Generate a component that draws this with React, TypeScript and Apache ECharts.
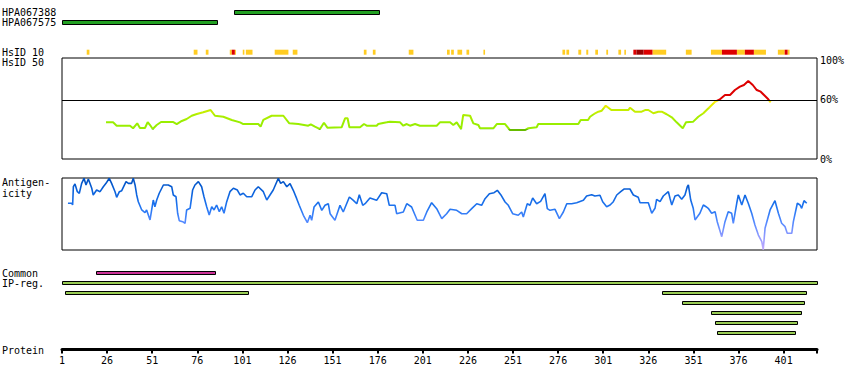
import React, { useEffect, useRef } from "react";
import * as echarts from "echarts";

// ---------- data ----------
const PROTEIN_END = 419.5;
const tickResidues = [1, 26, 51, 76, 101, 126, 151, 176, 201, 226, 251, 276, 301, 326, 351, 376, 401];

const antibodyNames = ["HPA067388", "HPA067575"];
// [start, end, row]
const antibodyRanges = [
  [96.3, 176.7, 0],
  [1.2, 86.7, 1],
];

// HsID 10 blocks [start, end]
const hsid10Orange = [
  [14.7, 16.2], [74.0, 76.1], [80.7, 82.2], [94.0, 95.1], [96.8, 97.4], [101.2, 102.1],
  [102.9, 106.6], [118.9, 126.5], [128.9, 131.5], [168.3, 169.8], [173.3, 174.8],
  [193.2, 195.8], [214.4, 215.9], [216.7, 218.2], [220.2, 222.8], [225.2, 226.7],
  [234.6, 235.5], [278.4, 279.9], [280.6, 282.1], [287.2, 288.8], [291.6, 292.7],
  [296.6, 298.1], [302.7, 303.7], [309.4, 310.9], [312.7, 313.6], [328.3, 335.9],
  [346.8, 350.0], [360.7, 366.8], [375.1, 379.5], [384.5, 391.2], [397.8, 401.6],
  [403.2, 404.3],
];
const hsid10Red = [
  [95.1, 96.8], [317.7, 319.4], [323.3, 328.3], [366.8, 375.1], [379.5, 384.5], [401.6, 403.2],
];
const hsid10DarkRed = [[319.4, 323.3]];

// HsID 50 identity curve [residue, percent]
const hsid50Points = [
  [25.4, 37.2], [29.3, 37.2], [31.3, 33.8], [38.7, 33.8], [40.4, 31.2], [42.7, 36.2],
  [44.2, 31.5], [47.0, 31.5], [48.5, 37.5], [49.8, 34.5], [51.3, 30.5], [53.5, 34.5],
  [55.9, 37.5], [62.7, 37.5], [64.6, 35.5], [67.4, 38.6], [70.1, 40.6], [72.9, 43.9],
  [75.7, 45.7], [79.3, 47.4], [83.4, 49.7], [85.8, 43.9], [90.4, 42.9], [95.1, 39.6],
  [99.7, 37.2], [101.5, 35.5], [109.8, 35.5], [111.1, 32.8], [112.6, 39.6], [117.2, 43.9],
  [123.7, 43.9], [127.0, 36.2], [132.0, 35.5], [137.5, 33.8], [138.9, 35.2], [141.2, 32.8],
  [144.0, 30.4], [146.2, 36.8], [148.1, 31.8], [156.0, 32.2], [157.9, 41.3], [159.3, 41.3],
  [160.3, 32.2], [166.2, 32.2], [168.4, 35.5], [169.9, 33.8], [175.4, 33.8], [176.3, 35.5],
  [181.0, 37.2], [182.8, 37.9], [188.4, 37.2], [190.2, 33.8], [192.1, 35.5], [193.9, 33.8],
  [196.7, 35.5], [199.4, 33.8], [208.7, 33.8], [210.5, 37.2], [216.1, 37.2], [217.9, 34.5],
  [219.8, 37.2], [222.2, 30.4], [223.4, 44.7], [227.2, 43.9], [229.0, 36.2], [231.8, 34.5],
  [232.7, 31.2], [240.1, 31.2], [242.0, 35.5], [246.6, 35.5], [249.3, 29.4], [257.6, 29.4],
  [259.5, 31.2], [264.1, 32.2], [265.0, 35.5], [287.2, 35.5], [288.5, 39.6], [292.6, 39.6],
  [293.7, 42.9], [296.5, 46.4], [298.3, 48.0], [300.2, 49.0], [302.4, 54.1], [304.8, 50.7],
  [305.7, 49.7], [314.9, 49.7], [315.9, 52.1], [318.6, 48.0], [322.3, 48.0], [324.2, 49.7],
  [326.0, 49.7], [328.8, 46.4], [331.5, 48.0], [333.4, 48.0], [336.2, 45.4], [339.0, 42.3],
  [341.7, 37.2], [345.1, 31.2], [346.9, 37.2], [350.9, 37.9], [353.7, 42.9], [356.5, 46.4],
  [360.2, 53.1], [363.0, 58.1], [365.4, 60.2], [368.5, 64.9], [371.3, 64.9], [374.0, 70.0],
  [376.8, 73.4], [379.0, 75.1], [381.4, 79.2], [383.9, 75.1], [386.1, 70.0], [388.3, 68.3],
  [390.7, 63.9], [392.5, 60.6], [393.8, 57.5],
];

// Antigenicity profile [residue, relative score 0-100]
const antigenPoints = [
  [4.3, 64.9], [6.4, 64.9], [6.9, 62.5], [7.3, 87.9], [8.2, 91.7], [9.5, 81.0], [10.6, 78.8],
  [11.9, 92.6], [13.2, 99.6], [14.3, 90.3], [15.6, 98.6], [17.5, 85.7], [18.3, 76.4],
  [20.2, 83.3], [22.1, 81.0], [23.9, 87.9], [25.4, 92.6], [27.2, 99.6], [28.5, 92.6],
  [30.4, 81.0], [31.3, 73.2], [32.8, 81.0], [34.1, 82.4], [36.5, 94.9], [37.8, 92.6],
  [39.6, 92.6], [40.5, 99.6], [41.5, 90.3], [42.4, 76.4], [43.3, 67.1], [45.2, 55.6],
  [47.0, 51.8], [47.9, 55.6], [49.8, 41.7], [50.7, 55.6], [51.6, 69.4], [52.5, 60.1],
  [53.5, 69.4], [54.9, 78.8], [57.2, 90.3], [59.9, 90.3], [61.8, 87.9], [62.7, 76.4],
  [64.2, 74.0], [65.1, 51.0], [66.0, 40.7], [67.9, 39.3], [69.2, 37.1], [70.1, 55.6],
  [72.0, 57.9], [73.4, 83.3], [74.7, 90.3], [76.6, 94.9], [78.4, 87.9], [79.7, 74.0],
  [81.2, 60.1], [82.6, 48.6], [84.0, 60.1], [85.3, 55.6], [86.7, 62.5], [88.2, 53.2],
  [89.5, 60.1], [90.8, 51.0], [92.3, 67.1], [94.1, 81.0], [96.0, 85.7], [98.2, 83.3],
  [99.7, 76.4], [101.5, 78.8], [103.4, 74.0], [106.2, 74.0], [108.0, 83.3], [109.8, 87.9],
  [112.6, 81.0], [114.5, 69.4], [116.3, 76.4], [118.1, 83.3], [120.9, 99.6], [122.2, 92.6],
  [123.7, 94.9], [125.6, 87.9], [127.4, 92.1], [129.2, 82.9], [131.1, 71.3], [132.5, 62.1],
  [134.8, 48.2], [137.0, 37.9], [138.5, 48.2], [139.4, 41.3], [140.7, 59.7], [143.1, 66.7],
  [145.0, 55.1], [146.8, 62.1], [148.6, 64.3], [149.6, 50.4], [152.3, 41.3], [155.1, 62.1],
  [156.9, 52.8], [160.3, 73.6], [162.5, 69.0], [164.4, 64.3], [165.8, 76.8], [167.7, 62.1],
  [169.0, 64.3], [171.7, 72.2], [175.4, 69.0], [178.2, 79.6], [181.0, 78.2], [182.4, 62.1],
  [185.6, 62.1], [186.5, 50.4], [190.2, 52.8], [192.1, 64.3], [194.8, 59.7], [197.9, 41.3],
  [201.3, 41.3], [203.2, 52.8], [205.9, 65.7], [208.7, 57.4], [211.5, 43.5], [214.2, 50.4],
  [216.1, 56.5], [219.8, 55.1], [222.6, 50.4], [225.3, 50.4], [228.1, 57.4], [230.9, 64.3],
  [233.6, 62.1], [235.5, 71.3], [237.9, 78.2], [240.5, 79.6], [242.3, 82.9], [244.2, 76.8],
  [246.6, 66.7], [248.4, 62.1], [250.8, 50.4], [253.9, 48.2], [255.8, 52.8], [256.7, 45.8],
  [258.9, 64.3], [260.4, 62.1], [261.9, 72.2], [264.1, 64.3], [266.3, 67.6], [268.7, 78.2],
  [270.0, 57.4], [271.5, 55.1], [274.3, 56.5], [276.7, 43.5], [278.9, 52.8], [280.8, 64.3],
  [283.5, 64.3], [286.3, 65.7], [290.0, 69.0], [291.8, 75.0], [294.6, 76.8], [296.4, 75.0],
  [299.2, 76.0], [300.7, 67.1], [302.9, 60.1], [304.8, 62.5], [306.6, 67.1], [308.5, 76.4],
  [310.7, 81.0], [312.5, 84.7], [315.8, 84.7], [317.7, 76.4], [320.4, 73.2], [321.4, 65.7],
  [326.0, 65.7], [327.9, 51.0], [329.7, 57.9], [330.6, 70.4], [332.5, 67.1], [334.3, 75.0],
  [337.1, 81.0], [338.0, 71.8], [339.0, 62.5], [340.8, 75.0], [342.6, 76.4], [344.5, 70.4],
  [346.3, 76.4], [347.6, 87.9], [348.2, 90.3], [349.5, 69.4], [350.9, 57.9], [351.9, 41.7],
  [354.6, 51.0], [356.5, 62.5], [358.0, 60.1], [359.2, 57.9], [361.1, 51.0], [363.0, 53.2],
  [364.2, 39.3], [366.7, 18.5], [368.5, 39.3], [370.3, 53.2], [372.2, 51.0], [373.1, 37.1],
  [375.0, 64.9], [375.9, 76.4], [377.8, 62.5], [379.6, 76.4], [381.4, 64.9], [383.3, 51.0],
  [385.1, 34.7], [387.0, 20.8], [388.9, 11.5], [389.7, 0.5], [390.7, 30.1], [393.5, 55.6],
  [396.2, 68.5], [398.1, 51.0], [399.9, 37.1], [401.8, 32.4], [403.0, 23.2], [405.5, 23.2],
  [406.4, 39.3], [408.6, 64.9], [410.1, 62.5], [411.0, 57.9], [412.3, 68.5], [413.8, 64.9],
];

// Common region [start, end, row]
const commonRegions = [[20.0, 85.6, 0]];
// InterPro regions [start, end, row]
const ipRegions = [
  [1.2, 419.3, 1],
  [2.8, 104.3, 2],
  [333.7, 413.2, 2],
  [344.8, 412.1, 3],
  [360.9, 410.5, 4],
  [363.1, 408.2, 5],
  [364.2, 407.1, 6],
];

// ---------- styling ----------
const FONT = '"DejaVu Sans Mono", monospace';
const LEFT = 62;
const WIDTH = 755;

const leftLabels: [string, number][] = [
  ["HPA067388", 12.5],
  ["HPA067575", 22.5],
  ["HsID 10", 52.5],
  ["HsID 50", 62.5],
  ["Antigen-", 182],
  ["icity", 193],
  ["Common", 273.5],
  ["IP-reg.", 283.5],
  ["Protein", 350],
];

function barRenderer(fill: string, thickness: number) {
  return (_params: any, api: any) => {
    const row = api.value(2) + 0.5;
    const s = api.coord([api.value(0), row]);
    const e = api.coord([api.value(1), row]);
    const h = api.size([0, thickness])[1];
    const y = Math.round(s[1] - h / 2) + 0.5;
    const x = Math.round(s[0]) + 0.5;
    return {
      type: "rect",
      shape: { x, y, width: Math.round(e[0]) - Math.round(s[0]), height: Math.round(h) },
      style: { fill, stroke: "#000", lineWidth: 1 },
    };
  };
}

function blockRenderer(_params: any, api: any) {
  const colors = ["#ffcc22", "#dd0000", "#990000"];
  const s = api.coord([api.value(0), 1]);
  const e = api.coord([api.value(1), 0]);
  return {
    type: "rect",
    shape: { x: s[0], y: s[1], width: e[0] - s[0], height: e[1] - s[1] },
    style: { fill: colors[api.value(2)] },
  };
}

export default function App() {
  const ref = useRef<HTMLDivElement>(null);

  useEffect(() => {
    if (!ref.current) return;
    const chart = echarts.init(ref.current, undefined, { renderer: "svg" });

    const grids = [
      { left: LEFT, width: WIDTH, top: 7, height: 20 },
      { left: LEFT, width: WIDTH, top: 49.7, height: 5 },
      { left: LEFT, width: WIDTH, top: 58, height: 101, show: true, borderColor: "#000", borderWidth: 1, backgroundColor: "transparent" },
      { left: LEFT, width: WIDTH, top: 178, height: 72, show: true, borderColor: "#000", borderWidth: 1, backgroundColor: "transparent" },
      { left: LEFT, width: WIDTH, top: 267, height: 70 },
      { left: LEFT, width: WIDTH, top: 300, height: 49.5 },
    ];

    const hiddenX = (i: number) => ({ type: "value", gridIndex: i, min: 1, max: PROTEIN_END, show: false });

    const xAxis: any[] = [0, 1, 2, 3, 4].map(hiddenX);
    xAxis.push({
      type: "value",
      gridIndex: 5,
      min: 1,
      max: PROTEIN_END,
      position: "bottom",
      axisLine: { show: true, onZero: false, lineStyle: { color: "#000", width: 3 } },
      axisTick: { show: true, length: 4, customValues: [...tickResidues, PROTEIN_END], lineStyle: { color: "#000", width: 2 } },
      axisLabel: { show: true, customValues: tickResidues, color: "#000", fontFamily: FONT, fontSize: 10, margin: 6 },
      splitLine: { show: false },
    });

    const yAxis: any[] = [
      { type: "value", gridIndex: 0, min: 0, max: 2, inverse: true, show: false },
      { type: "value", gridIndex: 1, min: 0, max: 1, show: false },
      {
        type: "value",
        gridIndex: 2,
        min: 0,
        max: 102.5,
        position: "right",
        axisLine: { show: false },
        axisTick: { show: false },
        splitLine: { show: false },
        axisLabel: { show: true, customValues: [0, 60, 100], formatter: "{value}%", color: "#000", fontFamily: FONT, fontSize: 10, margin: 3 },
      },
      { type: "value", gridIndex: 3, min: 0, max: 100, show: false },
      { type: "value", gridIndex: 4, min: 0, max: 7, inverse: true, show: false },
      { type: "value", gridIndex: 5, min: 0, max: 1, show: false },
    ];

    const hsid10Data = [
      ...hsid10Orange.map(([a, b]) => [a, b, 0]),
      ...hsid10Red.map(([a, b]) => [a, b, 1]),
      ...hsid10DarkRed.map(([a, b]) => [a, b, 2]),
    ];

    const option: any = {
      animation: false,
      backgroundColor: "#fff",
      grid: grids,
      xAxis,
      yAxis,
      visualMap: [
        {
          type: "piecewise",
          show: false,
          seriesIndex: 2,
          dimension: 1,
          pieces: [
            { lt: 30, color: "#66bb00" },
            { gte: 30, lt: 40, color: "#99ee00" },
            { gte: 40, lt: 46, color: "#aaee00" },
            { gte: 46, lt: 52, color: "#c4ee00" },
            { gte: 52, lt: 57, color: "#e6ee00" },
            { gte: 57, lt: 60, color: "#ffee11" },
            { gte: 60, color: "#dd0000" },
          ],
        },
        {
          type: "continuous",
          show: false,
          seriesIndex: 3,
          dimension: 1,
          min: 0,
          max: 100,
          inRange: { color: ["#c4aaff", "#8c99ff", "#4f88ff", "#1f74f0", "#0c63dd", "#0050c0"] },
        },
      ],
      series: [
        {
          type: "custom",
          name: "Antibodies",
          xAxisIndex: 0,
          yAxisIndex: 0,
          renderItem: barRenderer("#22a022", 0.35),
          encode: { x: [0, 1], y: 2 },
          data: antibodyRanges,
        },
        {
          type: "custom",
          name: "HsID 10",
          xAxisIndex: 1,
          yAxisIndex: 1,
          renderItem: blockRenderer,
          encode: { x: [0, 1] },
          data: hsid10Data,
        },
        {
          type: "line",
          name: "HsID 50",
          xAxisIndex: 2,
          yAxisIndex: 2,
          symbol: "none",
          showSymbol: false,
          lineStyle: { width: 2 },
          data: hsid50Points,
          markLine: {
            silent: true,
            symbol: "none",
            label: { show: false },
            lineStyle: { color: "#000", width: 1, type: "solid" },
            data: [{ yAxis: 60 }],
          },
        },
        {
          type: "line",
          name: "Antigenicity",
          xAxisIndex: 3,
          yAxisIndex: 3,
          symbol: "none",
          showSymbol: false,
          lineStyle: { width: 1.6 },
          data: antigenPoints,
        },
        {
          type: "custom",
          name: "Common",
          xAxisIndex: 4,
          yAxisIndex: 4,
          renderItem: barRenderer("#cc3399", 0.3),
          encode: { x: [0, 1], y: 2 },
          data: commonRegions,
        },
        {
          type: "custom",
          name: "IP-reg.",
          xAxisIndex: 4,
          yAxisIndex: 4,
          renderItem: barRenderer("#99cc55", 0.3),
          encode: { x: [0, 1], y: 2 },
          data: ipRegions,
        },
      ],
      graphic: leftLabels.map(([text, y]) => ({
        type: "text",
        x: 2,
        y,
        silent: true,
        style: { text, fill: "#000", font: `10px ${FONT}`, verticalAlign: "middle", align: "left" },
      })),
    };

    chart.setOption(option);
    return () => chart.dispose();
  }, []);

  return <div ref={ref} style={{ position: "absolute", left: 0, top: 0, width: 850, height: 390 }} />;
}
